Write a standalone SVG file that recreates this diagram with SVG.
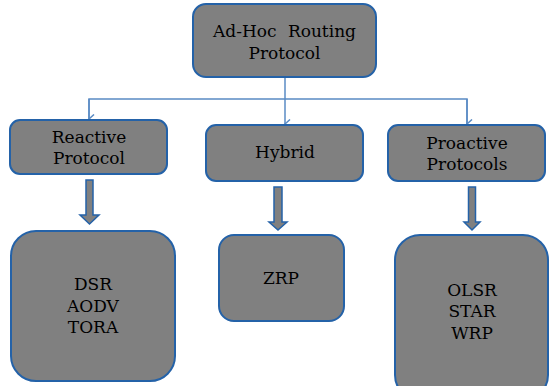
<svg xmlns="http://www.w3.org/2000/svg" width="549" height="386" viewBox="0 0 549 386">
<defs>
<style>
.box{fill:#808080;stroke:#2462A8;stroke-width:2}
.t{font-family:"DejaVu Serif","Liberation Serif",serif;font-size:17px;fill:#000;text-anchor:middle}
.ln{fill:none;stroke:#5A8BC4;stroke-width:1.5}
.blk{fill:#808080;stroke:#2462A8;stroke-width:1.5;stroke-linejoin:miter}
</style>
<marker id="v" markerWidth="10" markerHeight="10" refX="5" refY="8" orient="auto" markerUnits="userSpaceOnUse" viewBox="0 0 10 10">
<polyline points="0.5,3 5,8 9.5,3" fill="none" stroke="#5A8BC4" stroke-width="1.5"/>
</marker>
</defs>
<rect width="549" height="386" fill="#fff"/>
<g id="connectors">
<line class="ln" x1="285" y1="77" x2="285" y2="124" marker-end="url(#v)"/>
<polyline class="ln" points="89,119 89,99 467,99 467,124"/>
<line class="ln" x1="89" y1="99" x2="89" y2="119" marker-end="url(#v)"/>
<line class="ln" x1="467" y1="99" x2="467" y2="124" marker-end="url(#v)"/>
<polygon class="blk" points="86,180 93,180 93,215 99,215 89.5,224 80,215 86,215"/>
<polygon class="blk" points="274,187 282,187 282,222 287,222 278,230 269,222 274,222"/>
<polygon class="blk" points="468.5,187 475.5,187 475.5,222 480,222 472,230 464,222 468.5,222"/>
</g>
<g id="adhoc">
<rect class="box" x="193" y="4" width="183" height="73" rx="13"/>
<text class="t" x="284.5" y="37" word-spacing="6">Ad-Hoc Routing</text>
<text class="t" x="284.5" y="59">Protocol</text>
</g>
<g id="reactive">
<rect class="box" x="10" y="120" width="157" height="54" rx="10"/>
<text class="t" x="89" y="143">Reactive</text>
<text class="t" x="89" y="164">Protocol</text>
</g>
<g id="hybrid">
<rect class="box" x="206" y="125" width="157" height="56" rx="10"/>
<text class="t" x="285" y="158">Hybrid</text>
</g>
<g id="proactive">
<rect class="box" x="388" y="125" width="157" height="56" rx="10"/>
<text class="t" x="467" y="149">Proactive</text>
<text class="t" x="467" y="170">Protocols</text>
</g>
<g id="reactive-list">
<rect class="box" x="11" y="231" width="164" height="150" rx="25"/>
<text class="t" x="93" y="290">DSR</text>
<text class="t" x="93" y="312">AODV</text>
<text class="t" x="93" y="333">TORA</text>
</g>
<g id="hybrid-list">
<rect class="box" x="219" y="235" width="125" height="86" rx="15"/>
<text class="t" x="281" y="284">ZRP</text>
</g>
<g id="proactive-list">
<rect class="box" x="395" y="235" width="153" height="165" rx="25"/>
<text class="t" x="472" y="296">OLSR</text>
<text class="t" x="472" y="317">STAR</text>
<text class="t" x="472" y="339">WRP</text>
</g>
</svg>
